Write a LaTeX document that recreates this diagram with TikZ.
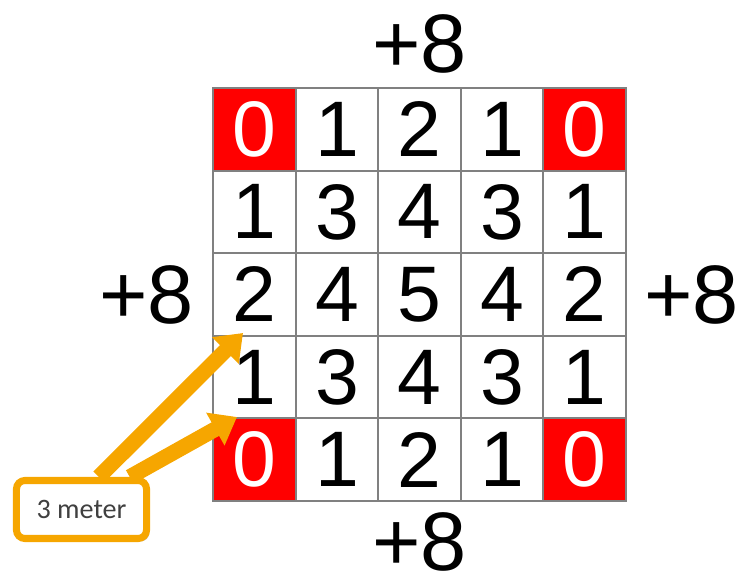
\documentclass[tikz,border=0pt]{standalone}
\usepackage{fontspec}
\setmainfont{Liberation Sans}
\newfontfamily\calloutfont{Carlito}
\usepackage{xcolor}
\usetikzlibrary{arrows.meta,shadows,positioning}

\definecolor{hotred}{RGB}{255,0,0}
\definecolor{gridgray}{RGB}{128,128,128}
\definecolor{calloutorange}{RGB}{246,166,0}

\begin{document}
\begin{tikzpicture}[x=0.025cm,y=-0.025cm]
	\tikzset{
		cool/.style={draw=gridgray,line width=1.3pt,minimum size=2.065cm,inner sep=0pt,
			font=\fontsize{56}{60}\selectfont},
		hot/.style={cool,fill=hotred,text=white},
		side/.style={inner sep=0pt,font=\fontsize{59}{64}\selectfont},
		callout/.style={draw=calloutorange,line width=5pt,rounded corners=6pt,fill=white,
			minimum width=3.25cm,minimum height=1.45cm,text=black!75,
			font=\calloutfont\fontsize{20}{24}\selectfont,
			drop shadow={shadow xshift=2pt,shadow yshift=-2pt,fill=black!45}},
		pointer/.style={calloutorange,line width=11pt,
			-{Triangle[length=0.62cm,width=0.9cm]}}
	}
	\useasboundingbox (0,0) rectangle (737,578);
	
	% raster
	\foreach \row/\vals in {1/{0/hot,1/cool,2/cool,1/cool,0/hot},
		2/{1/cool,3/cool,4/cool,3/cool,1/cool},
		3/{2/cool,4/cool,5/cool,4/cool,2/cool},
		4/{1/cool,3/cool,4/cool,3/cool,1/cool},
		5/{0/hot,1/cool,2/cool,1/cool,0/hot}}{
		\foreach \v/\s [count=\col] in \vals {
			\node[\s] (c-\row-\col) at ({213+82.6*(\col-0.5)},{88+82.6*(\row-0.5)}) {\v};
		}
	}
	
	% bonus around the raster
	\node[side,above=0.33cm of c-1-3] (plus-top) {+8};
	\node[side,below=0.26cm of c-5-3] (plus-bottom) {+8};
	\node[side,left=0.45cm of c-3-1] (plus-left) {+8};
	\node[side,right=0.42cm of c-3-5] (plus-right) {+8};
	
	% callout
	\coordinate (tip-a) at (243,333);
	\coordinate (tip-b) at (237,417);
	\node[callout] (meter) at (81.5,509.5) {3 meter};
	\draw[pointer] (meter.62) -- (tip-a);
	\draw[pointer] (meter.34) -- (tip-b);
	
\end{tikzpicture}
\end{document}
